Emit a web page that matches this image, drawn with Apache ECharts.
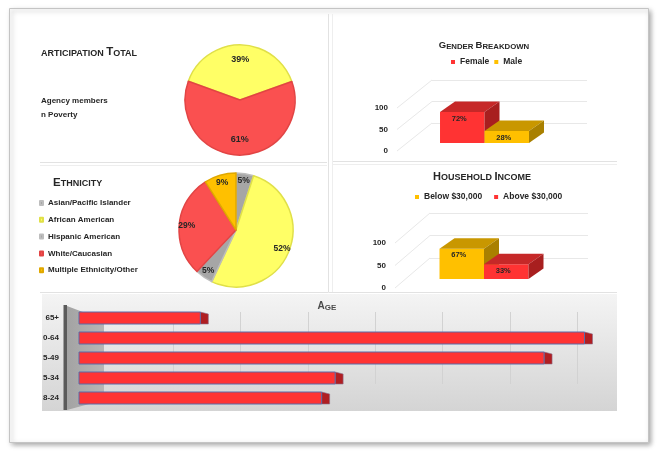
<!DOCTYPE html>
<html><head><meta charset="utf-8">
<script src="https://cdn.jsdelivr.net/npm/echarts@6/dist/echarts.min.js"></script>
<style>html,body{margin:0;padding:0;background:#fff}#c{width:658px;height:453px}</style>
</head><body><div id="c"></div>
<script>
// ---------------- data ----------------
const partNames = ['In Poverty', 'Agency members'];
const partValues = [39, 61];
const partLegendLines = ['Agency members', 'n Poverty'];

const ethNames = ['Asian/Pacific Islander', 'African American', 'Hispanic American', 'White/Caucasian', 'Multiple Ethnicity/Other'];
const ethValues = [5, 52, 5, 29, 9];

const genderNames = ['Female', 'Male'];
const genderValues = [72, 28];

const incomeNames = ['Below $30,000', 'Above $30,000'];
const incomeValues = [67, 33];

const pctTicks = [0, 50, 100];

const ageCats = ['8-24', '5-34', '5-49', '0-64', '65+'];
const ageValues = [36, 38, 69, 75, 18];

// ---------------- style ----------------
const FONT = '"Liberation Sans", Arial, sans-serif';
const TXT = '#262626';
const RED = '#ff3333', PRED = '#fa5050', YEL = '#ffff66', ORG = '#ffc000', GRY = '#a6a6a6';
const partColors = [YEL, PRED];
const partBorders = ['#e0e048', '#e24444'];
const ethColors = [GRY, YEL, GRY, PRED, ORG];
const ethBorders = ['#bdbdbd', '#e0e048', '#bdbdbd', '#e24444', '#e0a800'];

const chart = echarts.init(document.getElementById('c'));

function rich(big, small) {
  return {
    b: {fontSize: big, fontWeight: 'bold', fontFamily: FONT, fill: TXT, color: TXT, verticalAlign: 'bottom'},
    s: {fontSize: small, fontWeight: 'bold', fontFamily: FONT, fill: TXT, color: TXT, verticalAlign: 'bottom'}
  };
}
function titleEl(text, x, y, align, big, small, color) {
  const r = rich(big, small);
  if (color) { r.b.fill = r.b.color = color; r.s.fill = r.s.color = color; }
  return {type: 'text', x: x, y: y, z: 10,
    style: {text: text, rich: r, align: align, textAlign: align, verticalAlign: 'middle', textVerticalAlign: 'middle'}};
}
function plainText(text, x, y, size) {
  return {type: 'text', x: x, y: y, z: 10,
    style: {text: text, font: 'bold ' + size + 'px ' + FONT, fill: TXT, align: 'left', textAlign: 'left', verticalAlign: 'middle', textVerticalAlign: 'middle'}};
}
function line(x1, y1, x2, y2, c) {
  return {type: 'line', z: -15, shape: {x1: x1, y1: y1, x2: x2, y2: y2}, style: {stroke: c || '#e2e2e2', lineWidth: 1}};
}

// 3D bar renderer (drawn through the axis scale)
function bar3d(side, front, top, sideCol, dx0, dy0) {
  return function (params, api) {
    const v = api.value(1);
    const c = api.coord([api.value(0), 0]);
    const t = api.coord([api.value(0), v]);
    const bw = api.size([1, 0])[0];
    const half = bw * 0.287;
    const x0 = c[0] + (side === 0 ? -half : 0) + dx0;
    const x1 = x0 + half;
    const yb = c[1] + dy0, yt = t[1] + dy0;
    const ddx = 15, ddy = -10.5;
    return {type: 'group', children: [
      {type: 'polygon', shape: {points: [[x0, yt], [x1, yt], [x1, yb], [x0, yb]]}, style: {fill: front}},
      {type: 'polygon', shape: {points: [[x0, yt], [x0 + ddx, yt + ddy], [x1 + ddx, yt + ddy], [x1, yt]]}, style: {fill: top}},
      {type: 'polygon', shape: {points: [[x1, yt], [x1 + ddx, yt + ddy], [x1 + ddx, yb + ddy], [x1, yb]]}, style: {fill: sideCol}},
      {type: 'text', style: {text: v + '%', x: (x0 + x1) / 2 - 3, y: yt + 6.5, align: 'center', verticalAlign: 'middle',
        font: 'bold 7.5px ' + FONT, fill: TXT}}
    ]};
  };
}
function diag(ddx, ddy) {
  return function (params, api) {
    const p = api.coord([0, api.value(1)]);
    const bw = api.size([1, 0])[0];
    const x = p[0] - bw / 2;
    return {type: 'line', shape: {x1: x, y1: p[1], x2: x + ddx, y2: p[1] + ddy}, style: {stroke: '#e8e8e8', lineWidth: 1}};
  };
}

const option = {
  animation: false,
  graphic: {elements: [
    {type: 'rect', z: -20, shape: {x: 9.5, y: 8.5, width: 639, height: 434},
      style: {fill: '#fff', stroke: '#c4c4c4', lineWidth: 1, shadowBlur: 5, shadowOffsetX: 2, shadowOffsetY: 2, shadowColor: 'rgba(0,0,0,0.35)'}},
    line(40, 162.5, 327, 162.5), line(333, 161.5, 617, 161.5),
    line(40, 165.5, 327, 165.5, '#eeeeee'), line(333, 164.5, 617, 164.5, '#eeeeee'),
    line(328.5, 14, 328.5, 292), line(332.5, 14, 332.5, 292, '#eeeeee'),
    line(40, 292.5, 617, 292.5),
    {type: 'rect', z: -15, shape: {x: 42, y: 294, width: 575, height: 117},
      style: {fill: {type: 'linear', x: 0, y: 0, x2: 0, y2: 1, colorStops: [{offset: 0, color: '#f4f4f4'}, {offset: 1, color: '#d4d4d4'}]}}},
    {type: 'polygon', z: -12, shape: {points: [[67, 306], [104, 320], [104, 400], [67, 410]]},
      style: {fill: {type: 'linear', x: 0, y: 0, x2: 1, y2: 0, colorStops: [{offset: 0, color: '#a3a3a3'}, {offset: 1, color: '#b6b6b6'}]}}},
    {type: 'rect', z: -11, shape: {x: 63.5, y: 305, width: 3.5, height: 105}, style: {fill: '#5a5a5a'}},
    titleEl('{s|ARTICIPATION }{b|T}{s|OTAL}', 41, 52, 'left', 11.5, 9),
    plainText(partLegendLines[0], 41, 100.5, 8),
    plainText(partLegendLines[1], 41, 114.5, 8),
    titleEl('{b|E}{s|THNICITY}', 53, 182.5, 'left', 11.5, 9),
    titleEl('{b|G}{s|ENDER }{b|B}{s|REAKDOWN}', 484, 45.5, 'center', 9.5, 7.8),
    titleEl('{b|H}{s|OUSEHOLD }{b|I}{s|NCOME}', 482, 177, 'center', 11, 9),
    titleEl('{b|A}{s|GE}', 327, 306.5, 'center', 10, 8, '#4a4a4a')
  ]},
  legend: [
    {data: ethNames, orient: 'vertical', left: 39, top: 198, padding: 0, itemWidth: 3, itemHeight: 4, itemGap: 6.8,
      icon: 'rect', selectedMode: false, textStyle: {fontSize: 8, fontWeight: 'bold', fontFamily: FONT, color: TXT, lineHeight: 10}},
    {data: genderNames, orient: 'horizontal', left: 451, top: 57, padding: 0, itemWidth: 4, itemHeight: 4, itemGap: 5,
      icon: 'rect', selectedMode: false, textStyle: {fontSize: 8.5, fontWeight: 'bold', fontFamily: FONT, color: TXT, lineHeight: 10}},
    {data: incomeNames, orient: 'horizontal', left: 415, top: 192, padding: 0, itemWidth: 4, itemHeight: 4, itemGap: 12,
      icon: 'rect', selectedMode: false, textStyle: {fontSize: 8.5, fontWeight: 'bold', fontFamily: FONT, color: TXT, lineHeight: 10}}
  ],
  grid: [
    {left: 397, top: 108, width: 155, height: 43},
    {left: 432, top: 80, width: 155, height: 43},
    {left: 395, top: 243, width: 155, height: 45},
    {left: 430, top: 213, width: 158, height: 45},
    {left: 79, top: 308, width: 539.2, height: 100},
    {left: 105.6, top: 312, width: 539.2, height: 72}
  ],
  xAxis: [
    {gridIndex: 0, type: 'category', data: ['Gender'], show: false},
    {gridIndex: 1, type: 'value', min: 0, max: 1, show: false},
    {gridIndex: 2, type: 'category', data: ['Income'], show: false},
    {gridIndex: 3, type: 'value', min: 0, max: 1, show: false},
    {gridIndex: 4, type: 'value', min: 0, max: 80, interval: 10, show: false},
    {gridIndex: 5, type: 'value', min: 0, max: 80, interval: 10, axisLine: {show: false}, axisTick: {show: false}, axisLabel: {show: false},
      splitLine: {show: true, showMinLine: false, showMaxLine: false, lineStyle: {color: '#d2d2d2', width: 1}}}
  ],
  yAxis: [
    {gridIndex: 0, type: 'value', min: 0, max: 100, interval: 50, axisLine: {show: false}, axisTick: {show: false}, splitLine: {show: false},
      axisLabel: {margin: 9, fontSize: 8, fontWeight: 'bold', fontFamily: FONT, color: TXT}},
    {gridIndex: 1, type: 'value', min: 0, max: 100, interval: 50, axisLine: {show: false}, axisTick: {show: false}, axisLabel: {show: false},
      splitLine: {show: true, lineStyle: {color: '#e8e8e8'}}},
    {gridIndex: 2, type: 'value', min: 0, max: 100, interval: 50, axisLine: {show: false}, axisTick: {show: false}, splitLine: {show: false},
      axisLabel: {margin: 9, fontSize: 8, fontWeight: 'bold', fontFamily: FONT, color: TXT}},
    {gridIndex: 3, type: 'value', min: 0, max: 100, interval: 50, axisLine: {show: false}, axisTick: {show: false}, axisLabel: {show: false},
      splitLine: {show: true, lineStyle: {color: '#e8e8e8'}}},
    {gridIndex: 4, type: 'category', data: ageCats, axisLine: {show: false}, axisTick: {show: false},
      axisLabel: {margin: 20, fontSize: 8, fontWeight: 'bold', fontFamily: FONT, color: TXT}},
    {gridIndex: 5, type: 'value', min: 0, max: 1, show: false}
  ],
  series: [
    {type: 'pie', center: [240, 100], radius: 55, startAngle: 160, silent: true, label: {show: false}, labelLine: {show: false},
      data: partValues.map((v, i) => ({value: v, name: partNames[i], itemStyle: {color: partColors[i], borderColor: partBorders[i], borderWidth: 1.5}}))},
    {type: 'pie', center: [240, 100], radius: [19, 55], startAngle: 160, silent: true, itemStyle: {color: 'rgba(0,0,0,0)'},
      label: {show: true, position: 'inside', formatter: '{c}%', fontSize: 9, fontWeight: 'bold', fontFamily: FONT, color: TXT},
      data: partValues.map((v, i) => ({value: v, name: partNames[i]}))},
    {type: 'pie', center: [236, 230], radius: 57, startAngle: 90, silent: true, label: {show: false}, labelLine: {show: false},
      data: ethValues.map((v, i) => ({value: v, name: ethNames[i], itemStyle: {color: ethColors[i], borderColor: ethBorders[i], borderWidth: 1.5}}))},
    {type: 'pie', center: [236, 230], radius: [36, 57], startAngle: 90, silent: true,
      itemStyle: {color: 'rgba(0,0,0,0)'},
      label: {show: true, position: 'inside', formatter: '{c}%', fontSize: 8.5, fontWeight: 'bold', fontFamily: FONT, color: TXT},
      data: ethValues.map((v, i) => ({value: v, name: ethNames[i], itemStyle: {color: 'rgba(0,0,0,0)'}}))},
    {type: 'custom', xAxisIndex: 0, yAxisIndex: 0, silent: true, renderItem: diag(35, -28), data: pctTicks.map(v => [0, v])},
    {type: 'custom', name: genderNames[0], xAxisIndex: 0, yAxisIndex: 0, itemStyle: {color: RED},
      renderItem: bar3d(0, RED, '#c62828', '#a81f1f', 10, -8), data: [[0, genderValues[0]]]},
    {type: 'custom', name: genderNames[1], xAxisIndex: 0, yAxisIndex: 0, itemStyle: {color: ORG},
      renderItem: bar3d(1, ORG, '#c99700', '#a98000', 10, -8), data: [[0, genderValues[1]]]},
    {type: 'custom', xAxisIndex: 2, yAxisIndex: 2, silent: true, renderItem: diag(35, -30), data: pctTicks.map(v => [0, v])},
    {type: 'custom', name: incomeNames[0], xAxisIndex: 2, yAxisIndex: 2, itemStyle: {color: ORG},
      renderItem: bar3d(0, ORG, '#c99700', '#a98000', 11.5, -9), data: [[0, incomeValues[0]]]},
    {type: 'custom', name: incomeNames[1], xAxisIndex: 2, yAxisIndex: 2, itemStyle: {color: RED},
      renderItem: bar3d(1, RED, '#c62828', '#a81f1f', 11.5, -9), data: [[0, incomeValues[1]]]},
    {type: 'custom', xAxisIndex: 4, yAxisIndex: 4, itemStyle: {color: RED},
      renderItem: function (params, api) {
        const s = api.coord([0, api.value(1)]);
        const e = api.coord([api.value(0), api.value(1)]);
        const h = 12, y0 = s[1] - h / 2, y1 = s[1] + h / 2;
        return {type: 'group', children: [
          {type: 'polygon', shape: {points: [[e[0], y0], [e[0] + 8, y0 + 2], [e[0] + 8, y1], [e[0], y1]]}, style: {fill: '#b01e22', stroke: '#8c6e8c', lineWidth: 0.6}},
          {type: 'rect', shape: {x: s[0], y: y0, width: e[0] - s[0], height: h}, style: {fill: RED, stroke: '#5a6aa8', lineWidth: 1}}
        ]};
      },
      data: ageValues.map((v, i) => [v, i])}
  ]
};
chart.setOption(option);
</script>
</body></html>
